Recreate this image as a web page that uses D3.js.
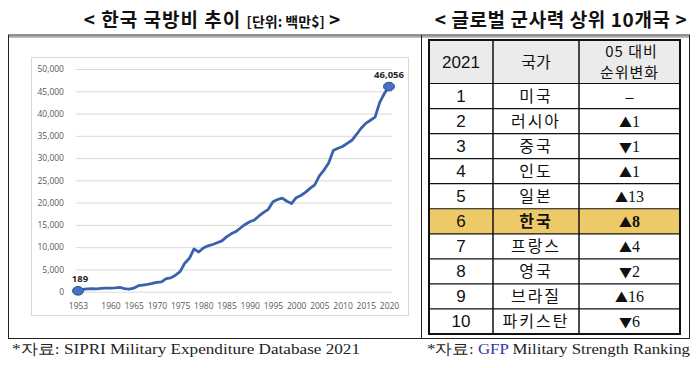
<!DOCTYPE html>
<html><head><meta charset="utf-8">
<script src="https://cdn.jsdelivr.net/npm/d3@7"></script>
<style>
html,body{margin:0;padding:0;background:#fff;}
svg{display:block;}
</style></head>
<body>
<svg id="c" width="700" height="368"></svg>
<script>
// ---- data ----
const years = d3.range(1953, 2021);
const spending = [189,500,650,700,650,750,800,800,850,950,700,600,800,1350,1500,1650,1850,2100,2200,2950,
3100,3700,4500,6400,7500,9600,8900,9800,10300,10600,11000,11400,12300,13000,13500,14300,15100,15700,16100,17000,
17800,18500,20200,20700,21000,20300,19800,21100,21600,22300,23200,24000,26000,27300,28900,31700,32200,32600,33300,34000,
35300,36700,37800,38500,39200,42500,44500,46056];
const xTickYears = [1953,1960,1965,1970,1975,1980,1985,1990,1995,2000,2005,2010,2015,2020];
const yTicks = d3.range(0, 50001, 5000);
const ranks = ["1","2","3","4","5","6","7","8","9","10"];
const countries = ["미국","러시아","중국","인도","일본","한국","프랑스","영국","브라질","파키스탄"];
const changeDir = ["","▲","▼","▲","▲","▲","▲","▼","▲","▼"];
const changeNum = ["–","1","1","1","13","8","4","2","16","6"];
const highlightCountry = "한국";

const svg = d3.select("#c");
const KR = "'Noto Sans CJK KR','Noto Sans',sans-serif";

// ---- outer frame ----
svg.append("line").attr("x1",8).attr("x2",690).attr("y1",35).attr("y2",35).attr("stroke","#222").attr("stroke-width",1.2);
svg.append("line").attr("x1",8).attr("x2",690).attr("y1",36.8).attr("y2",36.8).attr("stroke","#888").attr("stroke-width",1.2);
svg.append("line").attr("x1",8.5).attr("x2",8.5).attr("y1",35).attr("y2",338).attr("stroke","#222");
svg.append("line").attr("x1",421.5).attr("x2",421.5).attr("y1",35).attr("y2",338).attr("stroke","#222");
svg.append("line").attr("x1",689.5).attr("x2",689.5).attr("y1",35).attr("y2",338).attr("stroke","#222");
svg.append("line").attr("x1",8).attr("x2",690).attr("y1",338.5).attr("y2",338.5).attr("stroke","#222");

// ---- titles ----
const t1 = svg.append("text").attr("x",212).attr("y",27).attr("text-anchor","middle")
  .attr("font-family",KR).attr("font-weight","bold").attr("fill","#111");
t1.append("tspan").attr("font-size",19).attr("letter-spacing",1).text("< 한국  국방비  추이 ");
t1.append("tspan").attr("font-size",14).text("[단위: 백만$]");
t1.append("tspan").attr("font-size",19).text(" >");

svg.append("text").attr("x",561).attr("y",27).attr("text-anchor","middle")
  .attr("font-family",KR).attr("font-weight","bold").attr("font-size",19).attr("letter-spacing",0.6).attr("fill","#111")
  .text("< 글로벌  군사력  상위  10개국 >");

// ---- chart ----
svg.append("rect").attr("x",31.5).attr("y",57.5).attr("width",377).attr("height",258)
  .attr("fill","#fff").attr("stroke","#d9d9d9");

const x = d3.scaleLinear().domain([1953,2020]).range([78,389]);
const y = d3.scaleLinear().domain([0,50000]).range([291.7,69]);

const gy = svg.append("g").attr("transform","translate(76,0)")
  .call(d3.axisLeft(y).tickValues(yTicks).tickFormat(d3.format(",")).tickSize(-316).tickPadding(12));
gy.select(".domain").remove();
gy.selectAll(".tick line").attr("stroke","#d9d9d9").attr("stroke-width",1);
gy.selectAll(".tick text").attr("fill","#595959").attr("font-size",8.5).attr("font-family","'Open Sans',sans-serif");

const gx = svg.append("g").attr("transform","translate(0,297)")
  .call(d3.axisBottom(x).tickValues(xTickYears).tickFormat(d3.format("d")).tickSize(0).tickPadding(6));
gx.select(".domain").remove();
gx.selectAll(".tick text").attr("fill","#595959").attr("font-size",8.5).attr("font-family","'Open Sans',sans-serif");

const line = d3.line().x((d,i)=>x(years[i])).y(d=>y(d)).curve(d3.curveLinear);
svg.append("path").datum(spending).attr("d",line).attr("fill","none")
  .attr("stroke","#3a61ab").attr("stroke-width",2.8).attr("stroke-linejoin","round");

const ends = [0, spending.length-1];
svg.selectAll("ellipse.m").data(ends).join("ellipse")
  .attr("cx",i=>x(years[i])).attr("cy",i=>y(spending[i]))
  .attr("rx",5.5).attr("ry",4.3).attr("fill","#4472c4").attr("stroke","#2f528f").attr("stroke-width",1);
svg.selectAll("text.lbl").data(ends).join("text")
  .attr("x",i=>x(years[i])+(i===0?2:0)).attr("y",i=>y(spending[i])-9)
  .attr("text-anchor","middle").attr("font-family","'Open Sans',sans-serif").attr("font-weight","bold")
  .attr("font-size",9.5).attr("fill","#262626").text(i=>d3.format(",")(spending[i]));

// ---- table ----
const tx = [429, 493, 579, 680];
const headTop = 40, headBot = 83.5, rowH = 25.05;
svg.append("rect").attr("x",tx[0]).attr("y",headTop).attr("width",tx[3]-tx[0]).attr("height",headBot-headTop).attr("fill","#ebebeb");
const hi = countries.indexOf(highlightCountry);
svg.append("rect").attr("x",tx[0]).attr("y",headBot+hi*rowH).attr("width",tx[3]-tx[0]).attr("height",rowH).attr("fill","#edc967");

for (let i=0;i<=ranks.length;i++){
  const yy = headBot + i*rowH;
  svg.append("line").attr("x1",tx[0]).attr("x2",tx[3]).attr("y1",yy).attr("y2",yy).attr("stroke","#111").attr("stroke-width",1.2);
}
[tx[1],tx[2]].forEach(v=>svg.append("line").attr("x1",v).attr("x2",v).attr("y1",headTop).attr("y2",headBot+10*rowH).attr("stroke","#111").attr("stroke-width",1.5));
svg.append("rect").attr("x",tx[0]).attr("y",headTop).attr("width",tx[3]-tx[0]).attr("height",headBot+10*rowH-headTop)
  .attr("fill","none").attr("stroke","#111").attr("stroke-width",2);

const cx = [(tx[0]+tx[1])/2,(tx[1]+tx[2])/2,(tx[2]+tx[3])/2];
svg.append("text").attr("x",cx[0]).attr("y",68).attr("text-anchor","middle").attr("font-family","'Liberation Sans',Arial,sans-serif").attr("font-size",17).attr("fill","#111").text("2021");
svg.append("text").attr("x",cx[1]).attr("y",68).attr("text-anchor","middle").attr("font-family",KR).attr("font-size",16).attr("fill","#111").text("국가");
svg.append("text").attr("x",cx[2]+2).attr("y",57).attr("text-anchor","middle").attr("font-family",KR).attr("font-size",15).attr("letter-spacing",1).attr("fill","#111").text("05 대비");
svg.append("text").attr("x",cx[2]).attr("y",78).attr("text-anchor","middle").attr("font-family",KR).attr("font-size",15).attr("letter-spacing",1).attr("fill","#111").text("순위변화");

const rows = svg.selectAll("g.row").data(ranks).join("g").attr("class","row")
  .attr("transform",(d,i)=>`translate(0,${headBot+i*rowH+rowH/2+6})`);
rows.append("text").attr("x",cx[0]).attr("text-anchor","middle").attr("font-family","'Liberation Sans',Arial,sans-serif")
  .attr("font-size",17).attr("fill","#111").text(d=>d);
rows.append("text").attr("x",cx[1]).attr("text-anchor","middle").attr("font-family",KR)
  .attr("font-size",16).attr("font-weight",(d,i)=>i===hi?"bold":"normal").attr("letter-spacing",2).attr("fill","#111").text((d,i)=>countries[i]);
const ch = rows.append("text").attr("x",cx[2]).attr("text-anchor","middle").attr("fill","#111");
ch.append("tspan").attr("font-family",KR).attr("font-size",13).text((d,i)=>changeDir[i]);
ch.append("tspan").attr("font-family","'Liberation Serif',serif").attr("font-size",16).attr("font-weight",(d,i)=>i===hi?"bold":"normal").text((d,i)=>changeNum[i]);

// ---- footnotes ----
const f1 = svg.append("text").attr("x",12).attr("y",354).attr("font-family","'Liberation Serif',serif").attr("font-size",15).attr("fill","#222")
  .attr("textLength",348).attr("lengthAdjust","spacingAndGlyphs");
f1.append("tspan").text("*자료: SIPRI Military Expenditure Database 2021");
const f2 = svg.append("text").attr("x",427).attr("y",354).attr("font-family","'Liberation Serif',serif").attr("font-size",15).attr("fill","#222")
  .attr("textLength",263).attr("lengthAdjust","spacingAndGlyphs");
f2.append("tspan").text("*자료: ");
f2.append("tspan").attr("fill","#3535a8").text("GFP");
f2.append("tspan").text(" Military Strength Ranking");
</script>
</body></html>
